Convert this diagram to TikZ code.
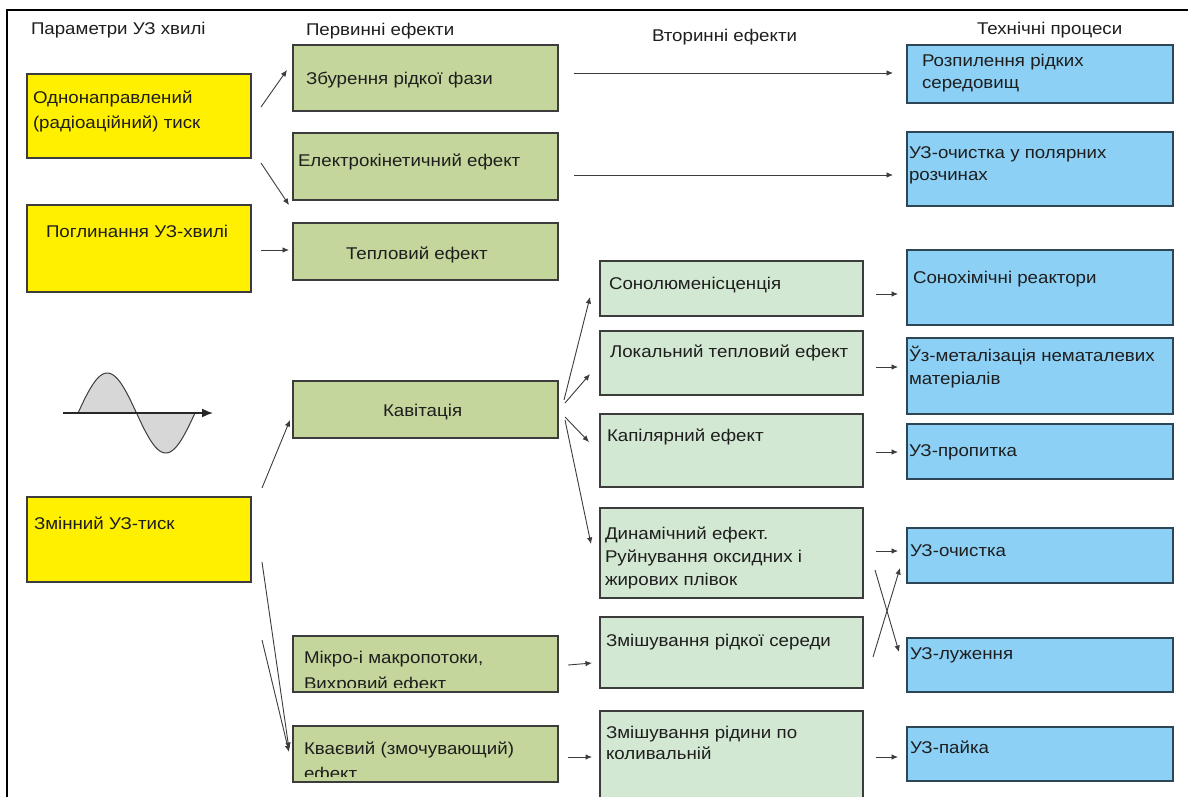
\documentclass[tikz,border=0pt]{standalone}
\usepackage{fontspec}
\setmainfont{Liberation Sans}[FakeStretch=1.1]
\usetikzlibrary{arrows.meta}
\definecolor{yel}{RGB}{255,240,0}
\definecolor{olive}{RGB}{196,214,155}
\definecolor{pale}{RGB}{211,232,210}
\definecolor{sky}{RGB}{140,208,245}
\definecolor{edge}{RGB}{60,60,60}
\definecolor{skyedge}{RGB}{45,70,85}
\definecolor{txt}{RGB}{30,30,30}
\definecolor{wavefill}{RGB}{215,215,215}
\newcommand{\mlines}[2][22pt]{\parbox[t]{330pt}{\fontsize{17}{#1}\selectfont\raggedright #2}}
\begin{document}
\begin{tikzpicture}[x=1pt,y=-1pt,
  font=\fontsize{17}{22}\selectfont,
  box/.style={draw=edge, line width=1.4pt, inner sep=0pt, outer sep=0pt, anchor=north west},
  ybox/.style={box, fill=yel, minimum width=224pt},
  obox/.style={box, fill=olive, minimum width=265pt},
  pbox/.style={box, fill=pale, minimum width=263pt},
  sbox/.style={box, draw=skyedge, fill=sky, minimum width=266pt},
  lbl/.style={anchor=base west, inner sep=0pt, outer sep=0pt, text=txt},
  arr/.style={draw=edge, line width=0.9pt, -{Latex[length=6.5pt,width=5.5pt]}},
  frame/.style={draw=black, line width=2pt}
]
\useasboundingbox (0,0) rectangle (1188,796);
\clip (0,0) rectangle (1188,796);
\fill[white] (0,0) rectangle (1188,796);

% frame
\coordinate (fb) at (7,800);
\coordinate (fc) at (7,10);
\coordinate (fr) at (1190,10);
\draw[frame] (fb) -- (fc) -- (fr);

% column titles
\node[lbl] (h1) at (31,34) {Параметри УЗ хвилі};
\node[lbl] (h2) at (306,35) {Первинні ефекти};
\node[lbl] (h3) at (652,41) {Вторинні ефекти};
\node[lbl] (h4) at (977,34) {Технічні процеси};

% wave parameters
\node[ybox, minimum height=84pt] (Y1) at (27,74) {};
\node[ybox, minimum height=87pt] (Y2) at (27,205) {};
\node[ybox, minimum height=85pt] (Y3) at (27,497) {};
\node[lbl] (tY1) at (33,103) {\mlines[25pt]{Однонаправлений\\(радіоаційний) тиск}};
\node[lbl] (tY2) at (46,237) {Поглинання УЗ-хвилі};
\node[lbl] (tY3) at (34,529) {Змінний УЗ-тиск};

% primary effects
\node[obox, minimum height=66pt] (P1) at (293,45) {};
\node[obox, minimum height=67pt] (P2) at (293,133) {};
\node[obox, minimum height=57pt] (P3) at (293,223) {};
\node[obox, minimum height=57pt] (P4) at (293,381) {};
\node[obox, minimum height=56pt] (P5) at (293,636) {};
\node[obox, minimum height=56pt] (P6) at (293,726) {};
\node[lbl] (tP1) at (306,84) {Збурення рідкої фази};
\node[lbl] (tP2) at (298,166) {Електрокінетичний ефект};
\node[lbl] (tP3) at (346,259) {Тепловий ефект};
\node[lbl] (tP4) at (383,416) {Кавітація};
\begin{scope}
  \clip ([shift={(1,1)}]P5.north west) rectangle ([shift={(-1,-5)}]P5.south east);
  \node[lbl] (tP5) at (304,663) {\mlines[26pt]{Мікро-і макропотоки,\\Вихровий ефект}};
\end{scope}
\begin{scope}
  \clip ([shift={(1,1)}]P6.north west) rectangle ([shift={(-1,-6)}]P6.south east);
  \node[lbl] (tP6) at (304,754) {\mlines[25pt]{Кваєвий (змочувающий)\\ефект}};
\end{scope}
\draw[draw=edge, line width=1.4pt] (P5.north west) rectangle (P5.south east);
\draw[draw=edge, line width=1.4pt] (P6.north west) rectangle (P6.south east);

% secondary effects
\node[pbox, minimum height=55pt] (S1) at (600,261) {};
\node[pbox, minimum height=64pt] (S2) at (600,331) {};
\node[pbox, minimum height=73pt] (S3) at (600,414) {};
\node[pbox, minimum height=90pt] (S4) at (600,508) {};
\node[pbox, minimum height=71pt] (S5) at (600,617) {};
\node[pbox, minimum height=95pt] (S6) at (600,711) {};
\node[lbl] (tS1) at (609,289) {Сонолюменісценція};
\node[lbl] (tS2) at (610,357) {Локальний тепловий ефект};
\node[lbl] (tS3) at (607,441) {Капілярний ефект};
\node[lbl] (tS4) at (605,539) {\mlines[23pt]{Динамічний ефект.\\Руйнування оксидних і\\жирових плівок}};
\node[lbl] (tS5) at (606,646) {Змішування рідкої середи};
\node[lbl] (tS6) at (606,738) {\mlines[21pt]{Змішування рідини по\\коливальній}};

% technical processes
\node[sbox, minimum height=58pt] (T1) at (907,45) {};
\node[sbox, minimum height=74pt] (T2) at (907,132) {};
\node[sbox, minimum height=75pt] (T3) at (907,250) {};
\node[sbox, minimum height=76pt] (T4) at (907,338) {};
\node[sbox, minimum height=55pt] (T5) at (907,424) {};
\node[sbox, minimum height=55pt] (T6) at (907,528) {};
\node[sbox, minimum height=54pt] (T7) at (907,638) {};
\node[sbox, minimum height=54pt] (T8) at (907,727) {};
\node[lbl] (tT1) at (922,66) {\mlines{Розпилення рідких\\середовищ}};
\node[lbl] (tT2) at (909,158) {\mlines{УЗ-очистка у полярних\\розчинах}};
\node[lbl] (tT3) at (913,283) {Сонохімічні реактори};
\node[lbl] (tT4) at (909,361) {\mlines[23pt]{Ўз-металізація нематалевих\\матеріалів}};
\node[lbl] (tT5) at (909,456) {УЗ-пропитка};
\node[lbl] (tT6) at (910,556) {УЗ-очистка};
\node[lbl] (tT7) at (910,659) {УЗ-луження};
\node[lbl] (tT8) at (910,753) {УЗ-пайка};

% sine wave symbol
\coordinate (ax0) at (63,413);
\coordinate (ax1) at (213,413);
\draw[draw=edge, line width=1pt, fill=wavefill]
  plot[domain=78:195, samples=80, smooth] (\x, {413-40*sin(3.0769*(\x-78))}) -- cycle;
\draw[draw=black!85, line width=1.6pt, -{Latex[length=11pt,width=9pt]}] (ax0) -- (ax1);

% connectors: parameters -> primary
\draw[arr] ([shift={(10,33)}]Y1.north east) -- ([shift={(-6,25)}]P1.north west);
\draw[arr] ([shift={(10,5)}]Y1.south east) -- ([shift={(-4,5)}]P2.south west);
\draw[arr] ([shift={(10,45)}]Y2.north east) -- ([shift={(-4,27)}]P3.north west);
\draw[arr] ([shift={(11,-9)}]Y3.north east) -- ([shift={(-3,-18)}]P4.south west);
\draw[arr] ([shift={(11,-20)}]Y3.south east) -- ([shift={(-4,23)}]P6.north west);
\draw[arr] ([shift={(11,58)}]Y3.south east) -- ([shift={(-4,26)}]P6.north west);

% primary -> technical (long)
\draw[arr] ([shift={(16,28)}]P1.north east) -- ([shift={(-14,28)}]T1.north west);
\draw[arr] ([shift={(16,42)}]P2.north east) -- ([shift={(-14,43)}]T2.north west);

% cavitation -> secondary
\draw[arr] ([shift={(6,19)}]P4.north east) -- ([shift={(-10,-19)}]S1.south west);
\draw[arr] ([shift={(7,22)}]P4.north east) -- ([shift={(-10,-21)}]S2.south west);
\draw[arr] ([shift={(7,36)}]P4.north east) -- ([shift={(-11,28)}]S3.north west);
\draw[arr] ([shift={(7,39)}]P4.north east) -- ([shift={(-9,36)}]S4.north west);
\draw[arr] ([shift={(10,29)}]P5.north east) -- ([shift={(-8,46)}]S5.north west);
\draw[arr] ([shift={(10,31)}]P6.north east) -- ([shift={(-8,46)}]S6.north west);

% secondary -> technical
\draw[arr] ([shift={(13,33)}]S1.north east) -- ([shift={(-9,44)}]T3.north west);
\draw[arr] ([shift={(13,36)}]S2.north east) -- ([shift={(-9,29)}]T4.north west);
\draw[arr] ([shift={(13,38)}]S3.north east) -- ([shift={(-9,28)}]T5.north west);
\draw[arr] ([shift={(13,43)}]S4.north east) -- ([shift={(-9,23)}]T6.north west);
\draw[arr] ([shift={(12,62)}]S4.north east) -- ([shift={(-8,14)}]T7.north west);
\draw[arr] ([shift={(10,40)}]S5.north east) -- ([shift={(-7,40)}]T6.north west);
\draw[arr] ([shift={(13,46)}]S6.north east) -- ([shift={(-9,30)}]T8.north west);
\end{tikzpicture}
\end{document}
